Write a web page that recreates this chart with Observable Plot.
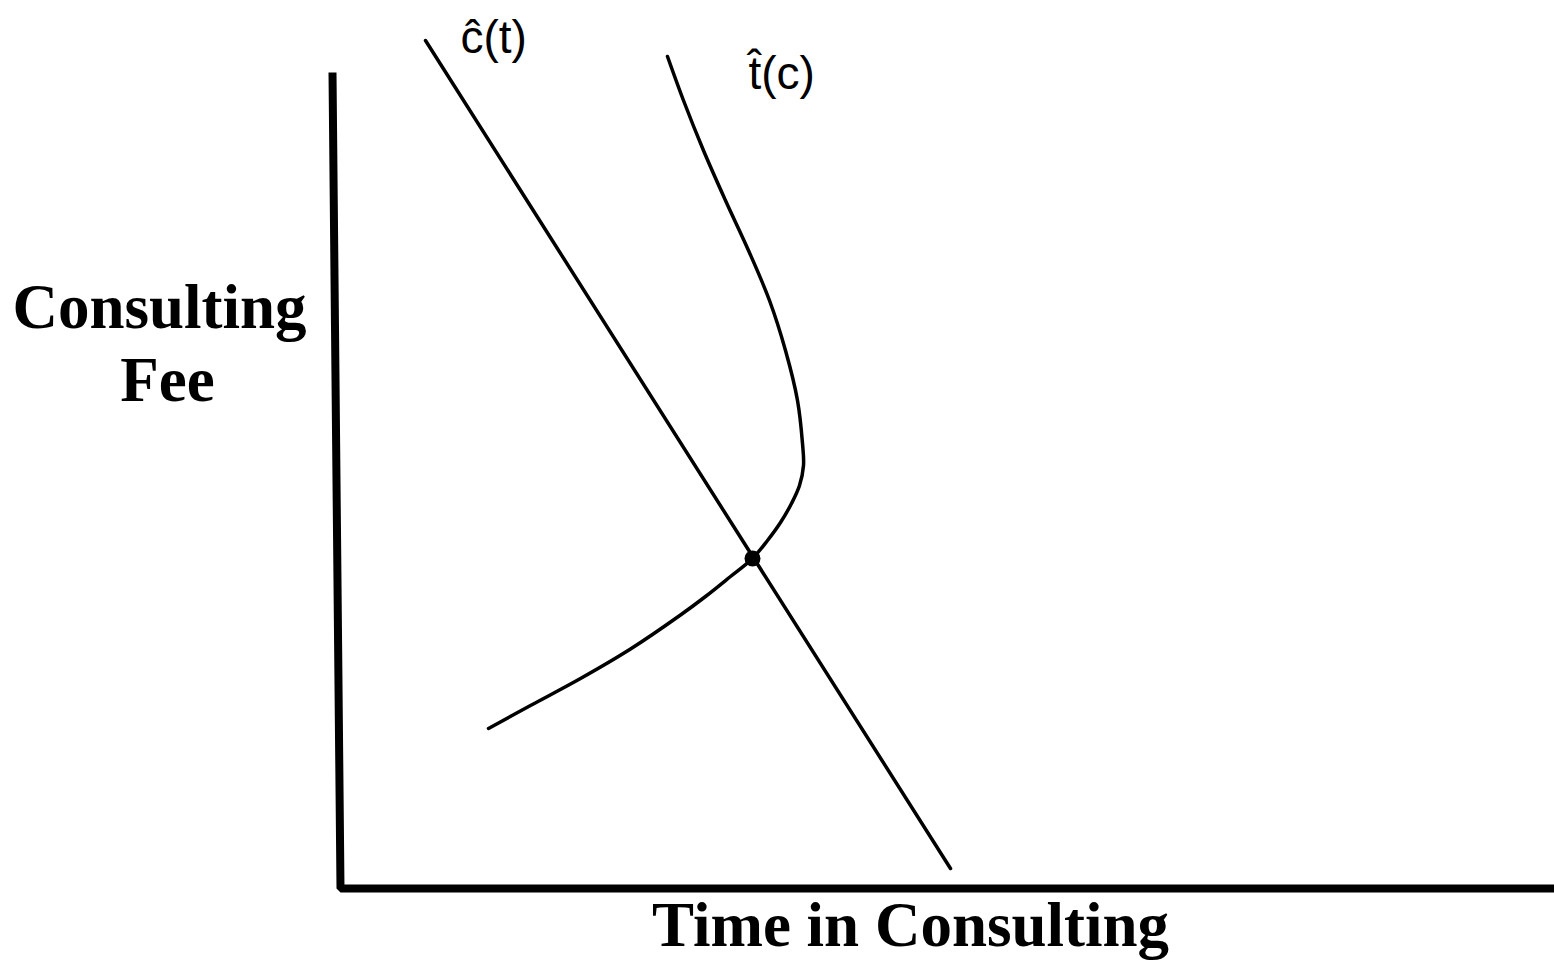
<!DOCTYPE html>
<html><head><meta charset="utf-8">
<script src="https://cdn.jsdelivr.net/npm/d3@7"></script>
<script src="https://cdn.jsdelivr.net/npm/@observablehq/plot@0.6"></script>
<style>html,body{margin:0;padding:0;background:#fff;overflow:hidden}</style>
</head><body><div id="chart"></div>
<script>
// Axis polyline (time, fee): top of fee axis, origin, end of time axis
const axisTime = [-0.08, 0, 12.3];
const axisFee = [8.16, 0, 0];

// ĉ(t) straight line
const cHatTime = [0.85, 6.10];
const cHatFee = [8.48, 0.20];

// t̂(c) curve
const tHatTime = [3.27, 3.43, 3.63, 3.85, 4.08, 4.29, 4.45, 4.57, 4.62, 4.63, 4.59, 4.51, 4.40, 4.27, 4.12, 3.90, 3.65, 3.40, 2.90, 2.40, 1.90, 1.48];
const tHatFee  = [8.32, 7.88, 7.38, 6.88, 6.38, 5.88, 5.38, 4.88, 4.45, 4.23, 4.03, 3.85, 3.66, 3.48, 3.30, 3.12, 2.92, 2.735, 2.395, 2.10, 1.83, 1.60];

// equilibrium
const eqTime = [4.12];
const eqFee = [3.30];

// texts
const curveLabels = ["c\u0302(t)", "t\u0302(c)"];
const xTitle = "Time in Consulting";
const yTitleLines = ["Consulting", "Fee"];

const axisData = axisTime.map((t, i) => ({t, f: axisFee[i]}));
const cHatData = cHatTime.map((t, i) => ({t, f: cHatFee[i]}));
const tHatData = tHatTime.map((t, i) => ({t, f: tHatFee[i]}));
const eqData = eqTime.map((t, i) => ({t, f: eqFee[i]}));

const serif = "'Liberation Serif', 'Times New Roman', serif";
const sans = "'Liberation Sans', Arial, sans-serif";
const titleStyle = {textAnchor: "middle", lineAnchor: "bottom", fontSize: 63, fontWeight: "bold", fontFamily: serif, fill: "#000"};

const chart = Plot.plot({
  width: 1554,
  height: 961,
  margin: 0,
  x: {domain: [-3.4, 12.14], range: [0, 1554], axis: null},
  y: {domain: [-0.73, 8.88], range: [961, 0], axis: null},
  style: {background: "#fff"},
  marks: [
    Plot.line(axisData, {x: "t", y: "f", stroke: "#000", strokeWidth: 8, strokeLinecap: "butt", strokeLinejoin: "miter"}),
    Plot.line(cHatData, {x: "t", y: "f", stroke: "#000", strokeWidth: 3.5}),
    Plot.line(tHatData, {x: "t", y: "f", stroke: "#000", strokeWidth: 3.5, curve: "catmull-rom"}),
    Plot.dot(eqData, {x: "t", y: "f", r: 8, fill: "#000", stroke: "none"}),
    Plot.text([curveLabels[0]], {x: () => cHatTime[0], y: () => cHatFee[0], text: d => d, dx: 35, dy: 12, textAnchor: "start", lineAnchor: "bottom", fontSize: 46, fontFamily: sans, fill: "#000"}),
    Plot.text([curveLabels[1]], {x: () => tHatTime[0], y: () => tHatFee[0], text: d => d, dx: 81, dy: 32, textAnchor: "start", lineAnchor: "bottom", fontSize: 46, fontFamily: sans, fill: "#000"}),
    Plot.text([xTitle], {frameAnchor: "top-left", text: d => d, dx: 910, dy: 945, ...titleStyle}),
    Plot.text([yTitleLines[0]], {frameAnchor: "top-left", text: d => d, dx: 159, dy: 327, ...titleStyle}),
    Plot.text([yTitleLines[1]], {frameAnchor: "top-left", text: d => d, dx: 167, dy: 400, ...titleStyle})
  ]
});
document.getElementById("chart").appendChild(chart);
</script>
</body></html>
